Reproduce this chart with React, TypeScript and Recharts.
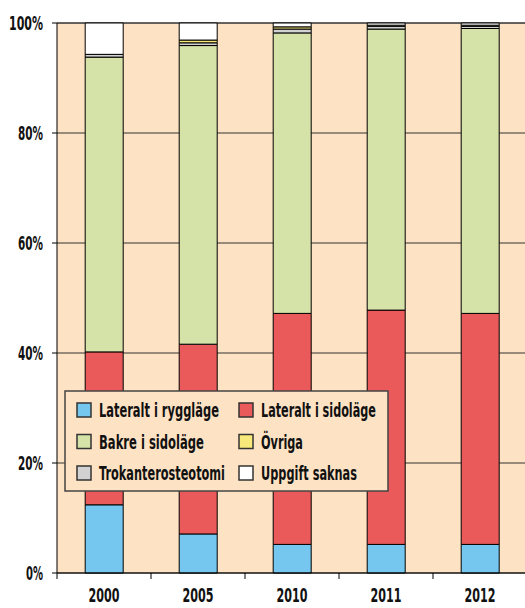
import { BarChart, Bar, XAxis, YAxis, CartesianGrid } from 'recharts'

// Andel per operationssnitt (%)
const years = ['2000', '2005', '2010', '2011', '2012']
const lateraltRygg = [12.4, 7.1, 5.2, 5.2, 5.2]
const lateraltSido = [27.8, 34.5, 42.0, 42.6, 42.0]
const bakreSido = [53.6, 54.3, 51.0, 51.1, 51.8]
const trokanter = [0.5, 0.5, 0.7, 0.5, 0.4]
const ovriga = [0.0, 0.5, 0.4, 0.2, 0.2]
const saknas = [5.7, 3.1, 0.7, 0.4, 0.4]
const yTicks = [0, 20, 40, 60, 80, 100]

const series = [
  { key: 'rygg', name: 'Lateralt i ryggläge', values: lateraltRygg, color: '#75c7ef' },
  { key: 'sido', name: 'Lateralt i sidoläge', values: lateraltSido, color: '#ea5a5b' },
  { key: 'bakre', name: 'Bakre i sidoläge', values: bakreSido, color: '#d5e2a8' },
  { key: 'trok', name: 'Trokanterosteotomi', values: trokanter, color: '#d2d2d2' },
  { key: 'ovr', name: 'Övriga', values: ovriga, color: '#f8ea7a' },
  { key: 'sak', name: 'Uppgift saknas', values: saknas, color: '#ffffff' },
]

const chartData = years.map((year, i) => {
  const row: Record<string, string | number> = { year }
  series.forEach(s => { row[s.key] = s.values[i] })
  return row
})

const FONT = '"DejaVu Sans", sans-serif'
const BG = '#fde3c4'

// legend order: left column then right column
const legendOrder = ['rygg', 'bakre', 'trok', 'sido', 'ovr', 'sak']
// target widths so the wide fallback font looks like the narrow original
const legendWidths: Record<string, number> = { rygg: 120, bakre: 105, trok: 126, sido: 115, ovr: 42, sak: 96 }

const measureCtx = typeof document !== 'undefined' ? document.createElement('canvas').getContext('2d') : null
function textWidth(str: string, size: number, weight: string) {
  if (!measureCtx) return str.length * size * 0.6
  measureCtx.font = `${weight} ${size}px "DejaVu Sans"`
  return measureCtx.measureText(str).width
}

// text squeezed horizontally to a given width
function NarrowText({ x, y, width, size, weight = 'normal', anchor = 'start', children }: any) {
  const sx = width / textWidth(children, size, weight)
  return (
    <text transform={`translate(${x},${y}) scale(${sx},1)`} textAnchor={anchor} fontFamily={FONT}
      fontSize={size} fontWeight={weight} fill="#111">
      {children}
    </text>
  )
}

function XTick({ x, y, payload }: any) {
  return (
    <g>
      <line x1={x - 47} x2={x - 47} y1={y - 8} y2={y - 2} stroke="#000" />
      <NarrowText x={x} y={y + 21} width={31} size={19} weight="bold" anchor="middle">
        {payload.value}
      </NarrowText>
    </g>
  )
}

function YTick({ x, y, payload }: any) {
  const label = `${payload.value}%`
  const w = label.length === 4 ? 34 : label.length === 3 ? 25 : 17
  return (
    <NarrowText x={x} y={y + 7} width={w} size={19} weight="bold" anchor="end">
      {label}
    </NarrowText>
  )
}

function ChartLegend() {
  return (
    <svg width={326} height={102} style={{ position: 'absolute', left: 64, top: 390 }}>
      <rect x={1} y={1} width={323} height={100} fill={BG} stroke="#444" strokeWidth={1.5} />
      {legendOrder.map((k, i) => {
        const s = series.find(d => d.key === k)!
        const col = Math.floor(i / 3)
        const row = i % 3
        const x = 13 + col * 162
        const y = 13 + row * 31.5
        return (
          <g key={k}>
            <rect x={x} y={y} width={14} height={14} fill={s.color} stroke="#333" strokeWidth={1.5} />
            <NarrowText x={x + 22} y={y + 14} width={legendWidths[k]} size={20} weight="bold">
              {s.name}
            </NarrowText>
          </g>
        )
      })}
    </svg>
  )
}

export default function App() {
  return (
    <div style={{ position: 'absolute', left: 0, top: 0, width: 525, height: 608, overflow: 'hidden', background: '#fff' }}>
      <BarChart
        width={530}
        height={608}
        data={chartData}
        margin={{ top: 23, right: 3, left: 0, bottom: 5 }}
        barCategoryGap="30%"
      >
        <CartesianGrid vertical={false} fill={BG} stroke="#333" strokeWidth={1} />
        <XAxis
          dataKey="year"
          height={30}
          axisLine={{ stroke: '#000' }}
          tickLine={false}
          tick={<XTick />}
          interval={0}
        />
        <YAxis
          width={57}
          domain={[0, 100]}
          ticks={yTicks}
          axisLine={{ stroke: '#000' }}
          tickLine={{ stroke: '#000' }}
          tickSize={5}
          tickMargin={9}
          tick={<YTick />}
        />
        {series.map(s => (
          <Bar
            key={s.key}
            dataKey={s.key}
            name={s.name}
            stackId="a"
            fill={s.color}
            stroke="#000"
            strokeWidth={1}
            isAnimationActive={false}
          />
        ))}
      </BarChart>
      <ChartLegend />
    </div>
  )
}
